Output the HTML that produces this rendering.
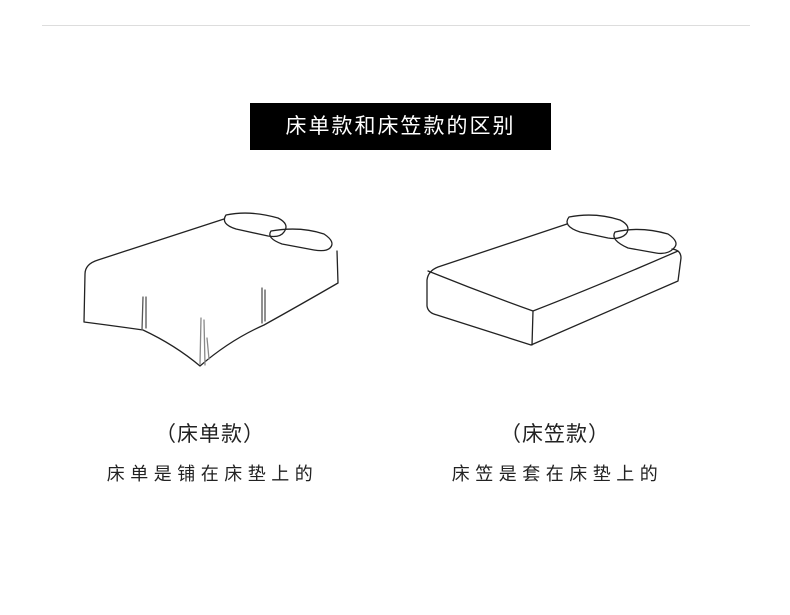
<!DOCTYPE html>
<html><head><meta charset="utf-8"><style>
body{margin:0;width:790px;height:615px;background:#fff;position:relative;font-family:"Liberation Sans","Noto Sans CJK SC",sans-serif;overflow:hidden}
.t{position:absolute;color:#222;text-align:center;white-space:nowrap}
</style></head><body>
<div style="position:absolute;left:42px;top:25px;width:708px;height:1px;background:#ddd"></div>
<div style="position:absolute;left:250px;top:103px;width:301px;height:47px;background:#000;color:#fff;font-size:21px;line-height:47px;text-align:center;letter-spacing:2px">床单款和床笠款的区别</div>
<svg style="position:absolute;left:0;top:0" width="790" height="615" fill="none" stroke="#222" stroke-width="1.3" stroke-linejoin="round" stroke-linecap="round">
<!-- left bed -->
<path d="M224 219 L98 260 Q85 264 85 274 L84 322 Q115 326 143 330 Q175 345 200 366 Q230 340 264 325 Q300 305 338 283 L337 251"/>
<path d="M226 215 Q250 210 278 218 Q290 224 284 232 Q280 238 268 236 L236 229 Q220 224 226 215Z"/>
<path d="M271 231 Q300 226 324 234 Q336 242 330 248 Q326 252 314 250 L282 244 Q266 238 271 231Z"/>
<path d="M143 297 L142 330 M146 297 L146 328 M262 288 L262 323 M265 290 L265 321" stroke="#555"/>
<path d="M201 318 L200 364 M204 320 L205 365 M207 338 L209 359" stroke="#888"/>
<!-- right bed -->
<path d="M567 224 L438 267 Q428 271 427 280 L427 306 Q428 313 437 315 L531 345 L678 281 L681 258 Q681 250 672 249"/>
<path d="M428 271 Q480 292 533 311 Q600 285 678 251 M533 311 L532 345"/>
<path d="M569 217 Q595 212 620 220 Q632 226 626 234 Q620 240 608 238 L580 232 Q562 226 569 217Z"/>
<path d="M615 232 Q640 226 668 234 Q680 242 674 248 Q668 255 656 253 L628 248 Q610 240 615 232Z"/>
</svg>
<div class="t" style="left:110px;top:418px;width:200px;font-size:21px;letter-spacing:1px">（床单款）</div>
<div class="t" style="left:70px;top:460px;width:280px;font-size:18px;letter-spacing:5.5px;text-indent:5px">床单是铺在床垫上的</div>
<div class="t" style="left:455px;top:418px;width:200px;font-size:21px;letter-spacing:1px">（床笠款）</div>
<div class="t" style="left:415px;top:460px;width:280px;font-size:18px;letter-spacing:5.5px;text-indent:5px">床笠是套在床垫上的</div>
</body></html>
